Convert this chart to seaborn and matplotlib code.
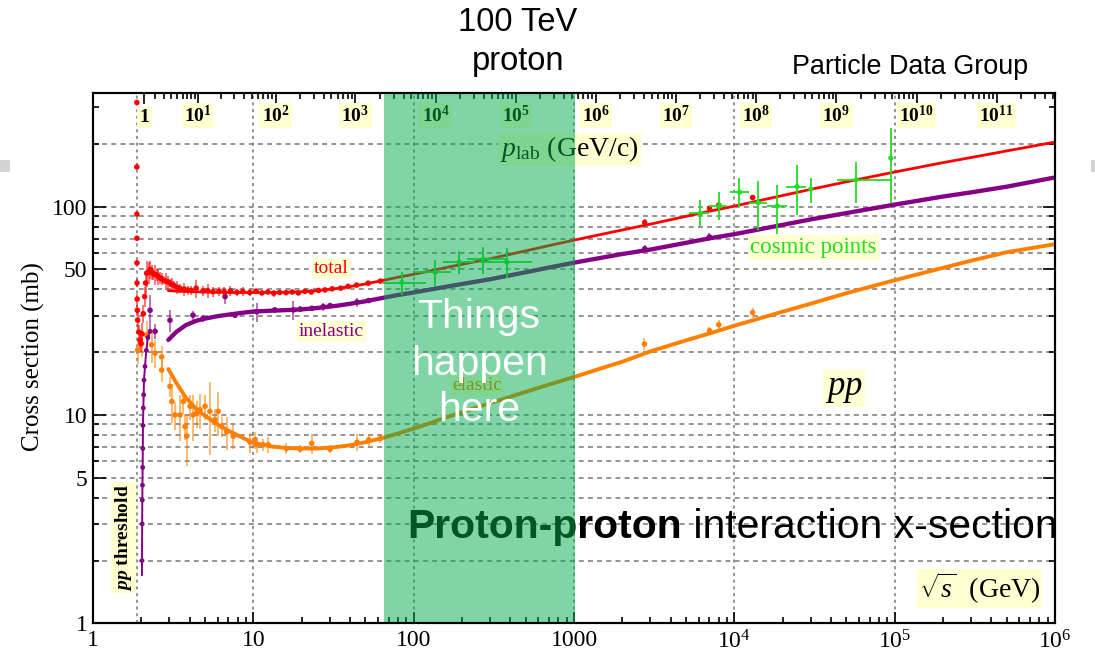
import numpy as np
import pandas as pd
import matplotlib
matplotlib.use("Agg")
import matplotlib.pyplot as plt
import seaborn as sns
from matplotlib.patches import Rectangle
from matplotlib.ticker import FixedLocator, FixedFormatter, NullFormatter

# ---------------------------------------------------------------- data
# fitted curves (sqrt(s) in GeV, cross sections in mb)
fit_sqrt_s = [2.95, 3.3, 3.8, 4.4, 5, 6, 7, 8.5, 10, 13, 16, 20, 25, 32, 40, 50, 64,
              80, 100, 130, 160, 200, 300, 500, 700, 1000, 1500, 2000, 3000, 5000,
              7000, 1e4, 2e4, 3e4, 5e4, 1e5, 2e5, 3e5, 5e5, 1e6]
fit_total = [39.5, 39.3, 39.1, 39.0, 38.9, 38.8, 38.7, 38.7, 38.7, 38.7, 38.8, 39.0,
             39.5, 40.3, 41.3, 42.5, 44.2, 45.8, 47.3, 49.3, 51.0, 52.8, 56.2, 61.3,
             65.0, 69.0, 73.7, 77.2, 82.4, 89.8, 95.0, 100.5, 113.0, 121.0, 131.5,
             146.5, 162.5, 172.0, 185.0, 204.0]
fit_inelastic = [22.9, 25.0, 27.0, 28.3, 29.0, 29.8, 30.3, 30.9, 31.35, 31.65, 31.85,
                 32.1, 32.6, 33.3, 34.15, 35.1, 36.45, 37.65, 38.7, 40.1, 41.25, 42.5,
                 44.8, 48.4, 51.0, 53.8, 56.9, 59.2, 62.2, 67.0, 70.4, 73.7, 81.7, 86.8,
                 93.1, 102.2, 111.7, 117.0, 124.6, 138.0]
fit_elastic = [16.6, 14.3, 12.1, 10.7, 9.9, 9.0, 8.4, 7.8, 7.35, 7.05, 6.95, 6.9, 6.9,
               7.0, 7.15, 7.4, 7.75, 8.15, 8.6, 9.2, 9.75, 10.3, 11.4, 12.9, 14.0, 15.2,
               16.8, 18.0, 20.2, 22.8, 24.6, 26.8, 31.3, 34.2, 38.4, 44.3, 50.8, 55.0,
               60.4, 66.0]

# total cross-section measurements
tot_sqrt_s = [1.877, 1.877, 1.878, 1.879, 1.88, 1.882, 1.885, 1.89, 1.9, 1.93, 1.964,
              1.99, 2.02, 2.06, 2.1, 2.13, 2.16, 2.22, 2.27, 2.32, 2.38, 2.44, 2.5,
              2.56, 2.62, 2.68, 2.75, 2.85, 2.95, 3.02, 3.1, 3.2, 3.35, 3.49, 3.7, 3.9,
              4.1, 4.4, 4.86, 5.2, 5.6, 6.1, 6.6, 7.2, 7.9, 8.6, 9.5, 10.4, 11.3, 12.3,
              13.4, 14.6, 16.0, 17.5, 19.1, 21.0, 23.0, 25.5, 28.0, 31.0, 35.0, 39.0,
              44.0, 52.0, 62.0, 2760, 7000, 8000, 13000]
tot_sigma = [316, 155, 92, 70.5, 53.7, 43.0, 36.0, 31.8, 28.5, 25.0, 22.9, 22.0, 24.5,
             30.6, 37.0, 43.0, 47.9, 48.5, 49.9, 48.5, 47.5, 47.2, 47.0, 46.0, 45.5,
             45.0, 44.5, 43.8, 43.4, 43.0, 42.3, 41.8, 41.0, 40.5, 40.2, 39.8, 39.6,
             40.6, 39.4, 39.5, 39.0, 39.3, 38.9, 39.4, 38.8, 39.1, 38.7, 39.3, 38.5,
             38.9, 38.4, 38.7, 38.6, 38.9, 38.5, 39.2, 38.9, 39.6, 39.8, 40.3, 40.6,
             41.4, 42.0, 42.9, 43.9, 84.0, 98.3, 101.7, 110.6]
tot_err = [0, 0, 0, 0, 1.5, 2, 2, 2, 3, 2, 2, 2, 3, 3, 4, 5, 7, 6, 5, 4, 3, 5, 3, 4, 3,
           3, 2, 4, 3, 2, 3, 2, 3, 2, 3, 2, 2, 4, 2, 3, 2, 2, 2, 2, 1.5, 2, 1.5, 1, 1,
           1, 1.5, 1, 1, 1, 1, 1, 1, 1, 1, 1, 1, 0.8, 0.8, 0.6, 0.6, 3, 2.8, 2.9, 3.4]

# inelastic cross-section measurements
inel_thr_sqrt_s = [2.02, 2.022, 2.026, 2.03, 2.034, 2.04, 2.045, 2.05, 2.06, 2.07, 2.08,
                   2.11, 2.15, 2.2, 2.27]
inel_thr_sigma = [1.7, 2.0, 3.0, 3.9, 4.6, 5.6, 6.9, 8.9, 10.8, 12.5, 14.7, 17.1, 20.4,
                  23.5, 25.2]
inel_sqrt_s = [2.27, 2.44, 3.02, 4.2, 4.86, 6.66, 7.69, 10.5, 13.6, 17.8, 19.6, 23.2,
               27.3, 30.1, 44.2, 52.4, 2760, 7000]
inel_sigma = [31.8, 25.2, 28.5, 30.1, 29.1, 37.0, 30.1, 31.3, 31.9, 31.9, 32.2, 32.5,
              33.1, 33.5, 34.8, 35.4, 62.8, 71.5]
inel_err = [6, 2, 3.5, 1.5, 1.2, 3, 1, 3.3, 1, 3.5, 1, 1, 1.5, 1, 1.8, 1, 2.4, 3.0]

# elastic cross-section measurements
el_sqrt_s = [1.9, 2.01, 2.16, 2.32, 2.44, 2.68, 2.68, 3.02, 3.10, 3.25, 3.49, 3.66, 3.75,
             3.84, 4.03, 4.22, 4.43, 4.65, 5.0, 5.36, 5.77, 6.04, 6.34, 6.82, 7.5, 9.53,
             10.2, 10.5, 11.5, 12.4, 16.1, 19.6, 23.1, 30.1, 44.3, 52.4, 61.8, 2750,
             7000, 8000, 13000]
el_sigma = [20.5, 22.0, 24.2, 21.7, 19.8, 19.0, 16.4, 13.7, 11.6, 10.0, 10.0, 11.6, 8.8,
            7.9, 11.0, 10.0, 10.2, 10.6, 11.0, 10.4, 9.5, 10.4, 8.8, 8.3, 7.9, 7.4,
            7.6, 7.2, 7.2, 7.2, 6.9, 6.85, 7.3, 6.85, 7.4, 7.6, 7.7, 21.9, 25.4, 27.1,
            31.0]
el_err = [3, 3, 4, 4, 3, 2.5, 2, 1.5, 2.5, 1.5, 2.5, 1.5, 1.2, 2.2, 1.5, 2.5, 1.5, 2,
          1.5, 4, 1.2, 2.5, 1, 1.5, 1, 0.8, 0.7, 0.6, 0.5, 0.6, 0.4, 0.3, 0.8, 0.3, 0.7,
          0.5, 0.4, 1.5, 1.1, 1.4, 1.7]

# cosmic-ray derived points with horizontal and vertical ranges
cos_sqrt_s = [84.3, 136, 192, 272, 381, 6140, 8070, 10770, 14060, 18570, 24600, 30000,
              57400, 94600]
cos_sigma = [43.2, 48.4, 54.1, 55.9, 54.1, 93.0, 100.7, 117.3, 104.5, 100.7, 124.8,
             121.3, 134.4, 170.7]
cos_x_lo = [64, 99.6, 153, 214, 259, 5230, 6970, 9330, 12400, 15900, 21100, 30000,
            43900, 94600]
cos_x_hi = [120, 172, 242, 380, 544, 6970, 9000, 12400, 15900, 21400, 28100, 30000,
            95700, 94600]
cos_y_lo = [37.8, 41.3, 47.7, 47.7, 45.3, 80.4, 86.5, 99.6, 77.1, 73.8, 91.2, 103.8,
            103.8, 103.8]
cos_y_hi = [48.7, 55.4, 60.9, 64.3, 63.1, 107.5, 118.0, 136.6, 132.0, 127.0, 158.7,
            136.6, 164.0, 237.0]

# axis ticks
x_major = [1, 10, 100, 1000, 1e4, 1e5, 1e6]
x_major_labels = ["1", "10", "100", "1000", r"$10^4$", r"$10^5$", r"$10^6$"]
y_major = [1, 5, 10, 50, 100]
y_major_labels = ["1", "5", "10", "50", "100"]
y_minor = [2, 3, 4, 6, 7, 8, 9, 20, 30, 40, 60, 70, 80, 90, 200, 300]
y_grid = [2, 3, 4, 5, 6, 7, 8, 9, 10, 20, 30, 40, 50, 60, 70, 80, 90, 100, 200]
x_grid = [10, 100, 1000, 1e4, 1e5]
plab_major = [1, 1e1, 1e2, 1e3, 1e4, 1e5, 1e6, 1e7, 1e8, 1e9, 1e10, 1e11]
plab_labels = [r"$\mathbf{1}$"] + [r"$\mathbf{10^{%d}}$" % k for k in range(1, 12)]

PROTON_MASS = 0.938272
THRESHOLD = 2 * PROTON_MASS
HIGHLIGHT = (65, 1010)   # sqrt(s) range of the shaded band


def plab_to_sqrts(p):
    p = np.asarray(p, dtype=float)
    m = PROTON_MASS
    return np.sqrt(2 * m * m + 2 * m * np.sqrt(p * p + m * m))


# ---------------------------------------------------------------- style
sns.set_theme(style="ticks")
plt.rcParams["font.family"] = ["Liberation Serif", "DejaVu Serif"]
plt.rcParams["mathtext.fontset"] = "custom"
plt.rcParams["mathtext.rm"] = "Liberation Serif"
plt.rcParams["mathtext.it"] = "Liberation Serif:italic"
plt.rcParams["mathtext.bf"] = "Liberation Serif:bold"
plt.rcParams["mathtext.bfit"] = "Liberation Serif:bold:italic"
plt.rcParams["axes.unicode_minus"] = False

RED = "#FF0000"
PURPLE = "#850085"
ORANGE = "#FF7F00"
GREEN = "#22DD22"
BOX = dict(facecolor="#FFFFD2", edgecolor="none", pad=1.5)
SANS = ["Liberation Sans", "DejaVu Sans"]

fig = plt.figure(figsize=(10.95, 6.55), dpi=100)
ax = fig.add_axes([93 / 1095, 31.7 / 655, 962 / 1095, 530.6 / 655])
ax.set_xscale("log")
ax.set_yscale("log")
ax.set_xlim(1, 1e6)
ax.set_ylim(1, 352)

# grid
for g in y_grid:
    ax.axhline(g, color="#777777", lw=1.1, ls=(0, (3.2, 2.8)), zorder=0.5)
for g in x_grid + [THRESHOLD]:
    ax.axvline(g, color="#777777", lw=1.1, ls=(0, (2.0, 2.4)), zorder=0.5)

# fitted curves
fits = pd.DataFrame({"sqrt_s": fit_sqrt_s, "total": fit_total,
                     "inelastic": fit_inelastic, "elastic": fit_elastic})
sns.lineplot(data=fits, x="sqrt_s", y="elastic", color=ORANGE, lw=2.8, ax=ax,
             zorder=3, sort=False, estimator=None)
sns.lineplot(data=fits, x="sqrt_s", y="inelastic", color=PURPLE, lw=3.1, ax=ax,
             zorder=3, sort=False, estimator=None)
sns.lineplot(data=fits, x="sqrt_s", y="total", color=RED, lw=2.0, ax=ax,
             zorder=3.2, sort=False, estimator=None)

# measurements
ax.errorbar(el_sqrt_s, el_sigma, yerr=el_err, fmt="none", ecolor=ORANGE, alpha=0.55,
            elinewidth=1.4, zorder=2.5)
sns.scatterplot(x=el_sqrt_s, y=el_sigma, color=ORANGE, s=16, edgecolor="none", ax=ax,
                zorder=2.6)

ax.plot(inel_thr_sqrt_s, inel_thr_sigma, color=PURPLE, lw=1.4, zorder=2.7)
sns.scatterplot(x=inel_thr_sqrt_s[1:], y=inel_thr_sigma[1:], color=PURPLE, s=12,
                edgecolor="none", ax=ax, zorder=2.8)
ax.errorbar(inel_sqrt_s, inel_sigma, yerr=inel_err, fmt="none", ecolor=PURPLE,
            alpha=0.55, elinewidth=1.4, zorder=2.7)
sns.scatterplot(x=inel_sqrt_s, y=inel_sigma, color=PURPLE, s=16, edgecolor="none",
                ax=ax, zorder=2.8)

ax.errorbar(tot_sqrt_s, tot_sigma, yerr=tot_err, fmt="none", ecolor=RED, alpha=0.55,
            elinewidth=1.4, zorder=2.9)
sns.scatterplot(x=tot_sqrt_s, y=tot_sigma, color=RED, s=16, edgecolor="none", ax=ax,
                zorder=3.0)

cx = np.array(cos_sqrt_s)
cy = np.array(cos_sigma)
ax.errorbar(cx, cy,
            xerr=[cx - np.array(cos_x_lo), np.array(cos_x_hi) - cx],
            yerr=[cy - np.array(cos_y_lo), np.array(cos_y_hi) - cy],
            fmt="none", ecolor=GREEN, elinewidth=1.3, zorder=3.4)
sns.scatterplot(x=cos_sqrt_s, y=cos_sigma, color=GREEN, s=14, edgecolor="none", ax=ax,
                zorder=3.5)

# bottom / left / right axes
ax.xaxis.set_major_locator(FixedLocator(x_major))
ax.xaxis.set_major_formatter(FixedFormatter(x_major_labels))
ax.xaxis.set_minor_locator(FixedLocator(
    [m * 10 ** k for k in range(0, 6) for m in range(2, 10)]))
ax.xaxis.set_minor_formatter(NullFormatter())
ax.yaxis.set_major_locator(FixedLocator(y_major))
ax.yaxis.set_major_formatter(FixedFormatter(y_major_labels))
ax.yaxis.set_minor_locator(FixedLocator(y_minor))
ax.yaxis.set_minor_formatter(NullFormatter())
ax.tick_params(axis="both", which="both", direction="in", colors="black",
               labelsize=17, width=1.2, right=True, top=False)
ax.tick_params(axis="both", which="major", length=8, pad=5)
ax.tick_params(axis="both", which="minor", length=4.5)
ax.tick_params(axis="y", which="major", length=9, pad=4)
for s in ax.spines.values():
    s.set_color("black")
    s.set_linewidth(1.5)
ax.set_xlabel("")
ax.set_ylabel("Cross section (mb)", fontsize=18, color="black")
ax.yaxis.set_label_coords(-0.050, 0.502)

# labels inside the frame
ax.text(30.8, 50.6, "total", color=RED, fontsize=14, ha="center", va="center",
        bbox=BOX, zorder=4)
ax.text(30.8, 25.1, "inelastic", color=PURPLE, fontsize=14, ha="center",
        va="center", bbox=BOX, zorder=4)
ax.text(248, 13.8, "elastic", color=ORANGE, fontsize=14, ha="center", va="center",
        bbox=BOX, zorder=4)
ax.text(31100, 63.6, "cosmic points", color=GREEN, fontsize=16.5, ha="center",
        va="center", bbox=BOX, zorder=4)
ax.text(48000, 13.4, r"$pp$", color="black", fontsize=25, ha="center", va="center",
        bbox=BOX, zorder=4)
ax.text(346, 188, r"$p_{\mathrm{lab}}$ (GeV/c)", color="black", fontsize=20,
        ha="left", va="center", bbox=BOX, zorder=4)
ax.text(8.1e5, 1.47, r"$\sqrt{s}$  (GeV)", color="black", fontsize=20, ha="right",
        va="center", bbox=BOX, zorder=4)
ax.text(1.546, 2.57, r"$\mathbfit{pp}$ threshold", color="black", fontsize=14,
        fontweight="bold", rotation=90, ha="center", va="center", bbox=BOX, zorder=4)

title_bold = ax.text(91, 2.9, "Proton-proton", fontsize=29.4, fontweight="bold",
                     family=SANS, color="black", ha="left", va="center", zorder=5)
ax.annotate(" interaction x-section", xy=(1, 0), xycoords=title_bold, ha="left",
            va="bottom", fontsize=29.4, family=SANS, color="black", zorder=5)

# beam-momentum axis along the top
ax_top = ax.twiny()
ax_top.set_xscale("log")
ax_top.set_xlim(ax.get_xlim())
top_minor = [m * 10.0 ** k for k in range(0, 12) for m in range(2, 10)]
top_minor = [p for p in top_minor if plab_to_sqrts(p) < 1e6]
ax_top.xaxis.set_major_locator(FixedLocator(plab_to_sqrts(plab_major)))
ax_top.xaxis.set_major_formatter(FixedFormatter(plab_labels))
ax_top.xaxis.set_minor_locator(FixedLocator(plab_to_sqrts(top_minor)))
ax_top.xaxis.set_minor_formatter(NullFormatter())
ax_top.tick_params(axis="x", which="both", direction="in", top=True, bottom=False,
                   labeltop=True, labelbottom=False, colors="black", width=1.2,
                   labelsize=14)
ax_top.tick_params(axis="x", which="major", length=8, pad=-24)
ax_top.tick_params(axis="x", which="minor", length=4.5)
for lbl in ax_top.get_xticklabels():
    lbl.set_bbox(BOX)
for s in ax_top.spines.values():
    s.set_color("black")
    s.set_linewidth(1.5)
    s.set_zorder(20)

# shaded energy band and its caption
ax_top.axvspan(*HIGHLIGHT, facecolor="#00AD4D", alpha=0.5, edgecolor="none",
               zorder=10)
ax_top.text(256, 17.6, "Things\nhappen\nhere", color="white", fontsize=29.5,
            family=SANS, ha="center", va="center", linespacing=1.28, zorder=30)

# captions around the frame
fig.text(518 / 1095, 1 - 42 / 655, "100 TeV\nproton", fontsize=23.5, family=SANS,
         ha="center", va="center", linespacing=1.35, color="black")
fig.text(910 / 1095, 1 - 67 / 655, "Particle Data Group", fontsize=19.4, family=SANS,
         ha="center", va="center", color="black")
for x0 in (0, 1091):
    fig.add_artist(Rectangle((x0 / 1095, 1 - 172 / 655), 10 / 1095, 12 / 655,
                             transform=fig.transFigure, facecolor="#D3D3D3",
                             edgecolor="none"))

fig.savefig("out.png", dpi=100)
